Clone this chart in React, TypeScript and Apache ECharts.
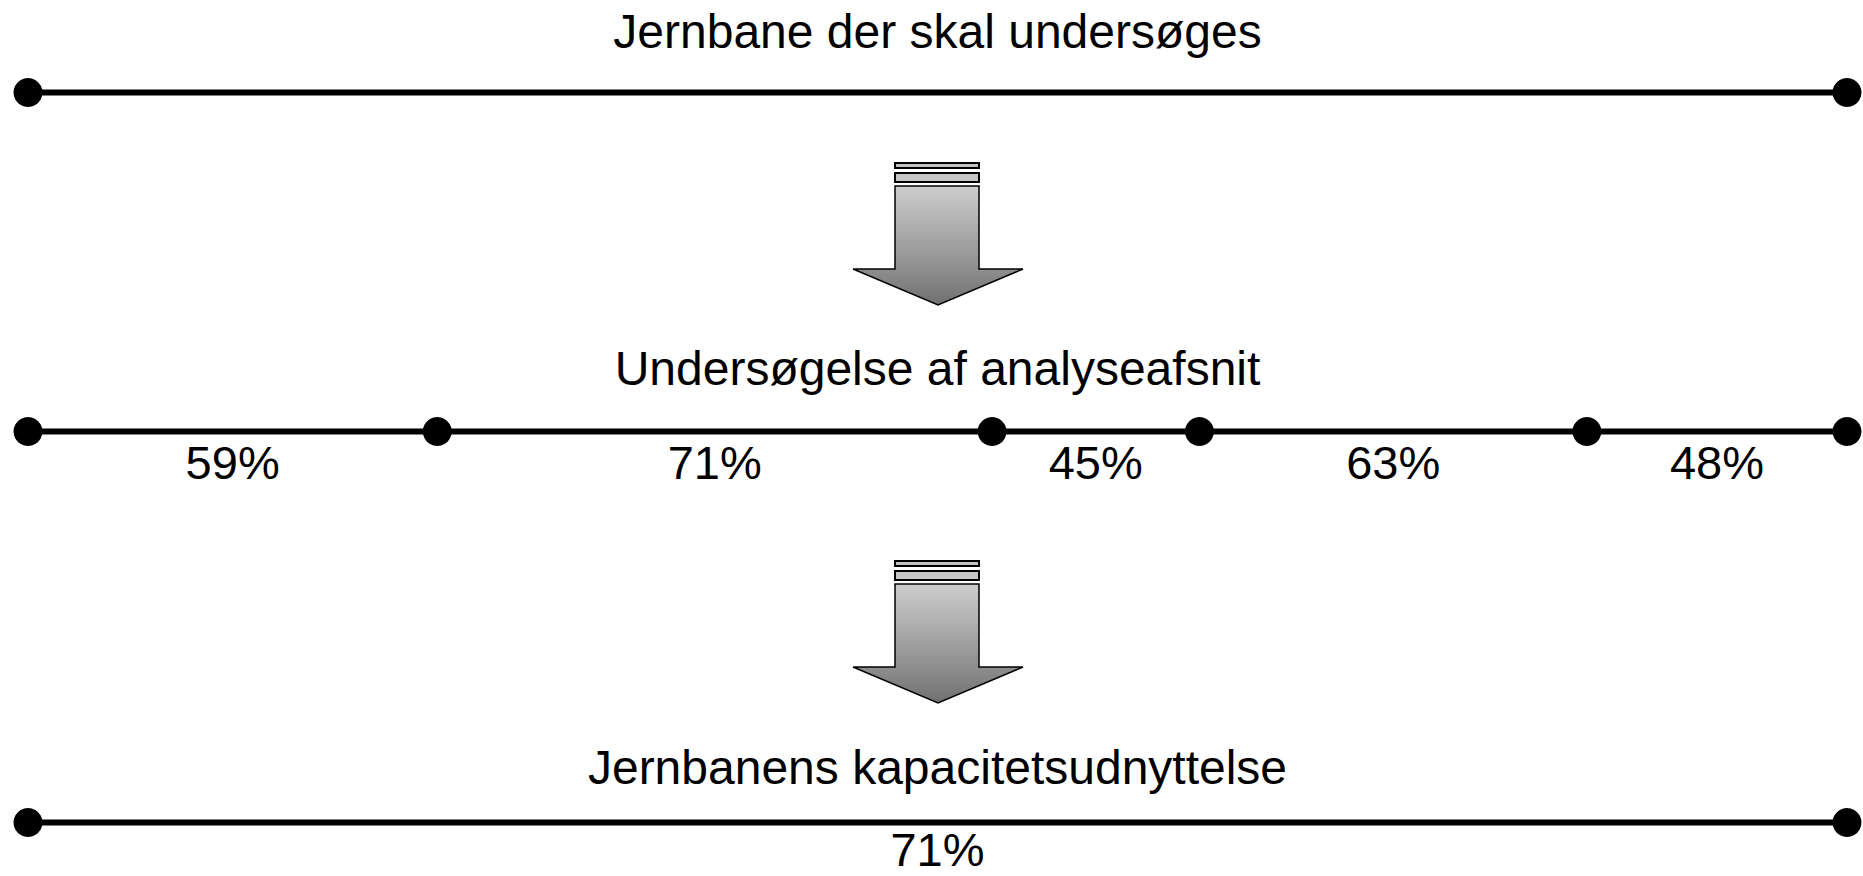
import React, { useEffect, useRef } from "react";
import * as echarts from "echarts";

// Titles of the three stages
const stageTitles = [
  "Jernbane der skal undersøges",
  "Undersøgelse af analyseafsnit",
  "Jernbanens kapacitetsudnyttelse",
];

// Positions (in % of the rail length) of the section boundaries
const wholeRailBoundaries = [0, 100];
const sectionBoundaries = [0, 22.5, 53.0, 64.4, 85.7, 100];
// Capacity utilisation per analysis section (%)
const sectionUtilization = [59, 71, 45, 63, 48];
// Resulting utilisation of the whole rail (%)
const totalUtilization = [71];

const FONT = '"Liberation Sans", Arial, sans-serif';

export default function App() {
  const ref = useRef<HTMLDivElement>(null);

  useEffect(() => {
    if (!ref.current) return;
    const chart = echarts.init(ref.current, null, { renderer: "svg" });

    const LEFT = 28;
    const RIGHT = 1863 - 1847;
    const rowY = [92.5, 431.5, 822.5];
    const titleY = [31, 368.5, 767];

    const grids = rowY.map((y) => ({
      left: LEFT,
      right: RIGHT,
      top: y - 20,
      height: 40,
      containLabel: false,
    }));
    const xAxes = rowY.map((_, i) => ({
      type: "value",
      gridIndex: i,
      min: 0,
      max: 100,
      show: false,
    }));
    const yAxes = rowY.map((_, i) => ({
      type: "value",
      gridIndex: i,
      min: -1,
      max: 1,
      show: false,
    }));

    const rails = [wholeRailBoundaries, sectionBoundaries, wholeRailBoundaries];
    const railSeries = rails.map((b, i) => ({
      type: "line",
      xAxisIndex: i,
      yAxisIndex: i,
      data: b.map((v) => [v, 0]),
      symbol: "circle",
      symbolSize: 29,
      showSymbol: true,
      clip: false,
      lineStyle: { color: "#000", width: 6 },
      itemStyle: { color: "#000" },
      silent: true,
      z: 3,
    }));

    const mids = (b: number[]) =>
      b.slice(0, -1).map((v, k) => (v + b[k + 1]) / 2);

    const labelSeries = [
      { row: 1, bounds: sectionBoundaries, values: sectionUtilization, dy: 31 },
      { row: 2, bounds: wholeRailBoundaries, values: totalUtilization, dy: 27 },
    ].map(({ row, bounds, values, dy }) => ({
      type: "scatter",
      xAxisIndex: row,
      yAxisIndex: row,
      symbolSize: 0,
      clip: false,
      silent: true,
      itemStyle: { opacity: 1, color: "#000" },
      data: mids(bounds).map((m, k) => ({ value: [m, 0], pct: values[k] })),
      label: {
        show: true,
        position: "inside",
        offset: [0, dy],
        formatter: (p: any) => p.data.pct + "%",
        color: "#000",
        opacity: 1,
        textBorderWidth: 0,
        fontSize: 47,
        lineHeight: 40,
        fontFamily: FONT,
        align: "center",
        verticalAlign: "middle",
      },
    }));

    const arrow = (oy: number) => ({
      type: "group",
      x: 0,
      y: oy,
      silent: true,
      children: [
        {
          type: "rect",
          shape: { x: 895, y: 163, width: 84, height: 5 },
          style: { fill: "#c2c2c2", stroke: "#000", lineWidth: 2 },
        },
        {
          type: "rect",
          shape: { x: 895, y: 173, width: 84, height: 9 },
          style: { fill: "#c6c6c6", stroke: "#000", lineWidth: 2 },
        },
        {
          type: "polygon",
          shape: {
            points: [
              [895, 186],
              [979, 186],
              [979, 269],
              [1023, 269],
              [938, 305],
              [853, 269],
              [895, 269],
            ],
          },
          style: {
            fill: new echarts.graphic.LinearGradient(0, 0, 0, 1, [
              { offset: 0, color: "#cdcdcd" },
              { offset: 0.7, color: "#8e8e8e" },
              { offset: 1, color: "#707070" },
            ]),
            stroke: "#000",
            lineWidth: 1.5,
            lineJoin: "miter",
          },
        },
      ],
    });

    const titles = stageTitles.map((t, i) => ({
      type: "text",
      x: 937.5,
      y: titleY[i],
      silent: true,
      style: {
        text: t,
        fill: "#000",
        fontSize: 48,
        fontFamily: FONT,
        align: "center",
        verticalAlign: "middle",
      },
    }));

    chart.setOption({
      animation: false,
      backgroundColor: "#fff",
      grid: grids,
      xAxis: xAxes,
      yAxis: yAxes,
      series: [...railSeries, ...labelSeries],
      graphic: [arrow(0), arrow(398), ...titles],
    });

    return () => chart.dispose();
  }, []);

  return (
    <div
      ref={ref}
      style={{ position: "fixed", left: 0, top: 0, width: 1863, height: 876 }}
    />
  );
}
